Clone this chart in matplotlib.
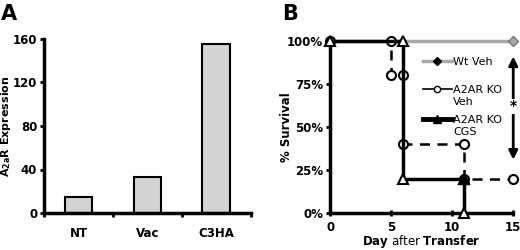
import numpy as np
import matplotlib.pyplot as plt
from matplotlib.lines import Line2D
from matplotlib.legend_handler import HandlerLine2D

plt.rcParams['font.family'] = 'DejaVu Sans'
plt.rcParams['font.weight'] = 'bold'
plt.rcParams['mathtext.fontset'] = 'dejavusans'

# panel A data
groups = ['NT', 'Vac', 'C3HA']
expression = [15, 33, 155]

# panel B data (Kaplan-Meier steps)
wt_day = [0, 15]
wt_surv = [100, 100]
ko_day = [0, 5, 5, 6, 6, 11, 11, 15]
ko_surv = [100, 100, 80, 80, 40, 40, 20, 20]
cgs_day = [0, 6, 6, 11, 11]
cgs_surv = [100, 100, 20, 20, 0]


class TopHandler(HandlerLine2D):
    # put the legend sample level with the first line of a two-line label
    def __init__(self, shift, **kw):
        super().__init__(**kw)
        self.shift = shift

    def create_artists(self, legend, orig_handle, xdescent, ydescent,
                       width, height, fontsize, trans):
        arts = super().create_artists(legend, orig_handle, xdescent, ydescent,
                                      width, height, fontsize, trans)
        for a in arts:
            a.set_ydata(np.asarray(a.get_ydata()) + self.shift)
        return arts


fig = plt.figure(figsize=(5.2, 2.5), dpi=100)

# ---- A ----
ax1 = fig.add_axes([0.085, 0.148, 0.397, 0.696])
ax1.bar(range(len(groups)), expression, width=0.4, color='#d3d3d3',
        edgecolor='black', linewidth=1.5)
ax1.set_xlim(-0.5, 2.5)
ax1.set_ylim(0, 160)
ax1.set_yticks([0, 40, 80, 120, 160])
ax1.set_xticks([-0.5, 0.5, 1.5, 2.5])
ax1.set_xticklabels([])
for i, g in enumerate(groups):
    ax1.text(i, -13, g, ha='center', va='top', fontsize=8.5, fontweight='bold')
ax1.set_ylabel(r'A$_{\mathbf{2a}}$R Expression', fontsize=8, fontweight='bold')
ax1.yaxis.set_label_coords(-0.15, 0.5)
for s in ['top', 'right']:
    ax1.spines[s].set_visible(False)
ax1.spines['left'].set_linewidth(2.5)
ax1.spines['bottom'].set_linewidth(2.5)
ax1.tick_params(width=2, length=3, labelsize=8.5, pad=2)
fig.text(0.002, 0.985, 'A', fontsize=15, fontweight='bold', va='top')

# ---- B ----
ax2 = fig.add_axes([0.635, 0.148, 0.352, 0.688])
ax2.plot(wt_day, wt_surv, color='#a8a8a8', lw=2.5, marker='D', ms=5,
         mfc='#a8a8a8', mec='#777777', clip_on=False, zorder=2)
ax2.plot(ko_day, ko_surv, color='black', lw=1.8, ls=(0, (4, 3)), marker='o', ms=6.5,
         mfc='white', mec='black', mew=1.5, clip_on=False, zorder=3)
ax2.plot(cgs_day, cgs_surv, color='black', lw=2.5, marker='^', ms=6.5,
         mfc='white', mec='black', mew=1.5, clip_on=False, zorder=4)
ax2.plot([11], [20], marker='^', ms=6.5, color='black', clip_on=False, zorder=5)
ax2.set_xlim(0, 15)
ax2.set_ylim(0, 100)
ax2.set_xticks([0, 5, 10, 15])
ax2.set_yticks([0, 25, 50, 75, 100])
ax2.set_yticklabels(['0%', '25%', '50%', '75%', '100%'])
for s in ['top', 'right']:
    ax2.spines[s].set_visible(False)
ax2.spines['left'].set_linewidth(2.5)
ax2.spines['bottom'].set_linewidth(2.5)
ax2.tick_params(width=2, length=3, labelsize=8.5, pad=2)
ax2.tick_params(axis='x', direction='inout', length=5, pad=3)
ax2.set_ylabel('% Survival', fontsize=8.5, fontweight='bold')
ax2.yaxis.set_label_coords(-0.205, 0.5)
ax2.set_xlabel(r'$\mathbf{Day}$ after $\mathbf{Transfer}$', fontsize=8.5,
               fontweight='normal')
ax2.xaxis.set_label_coords(0.5, -0.115)

ax2.annotate('', xy=(15, 31), xytext=(15, 91),
             arrowprops=dict(arrowstyle='<|-|>', color='black', lw=2,
                             mutation_scale=13, shrinkA=0, shrinkB=0))
ax2.text(15, 62, '*', fontsize=10, fontweight='bold', ha='center', va='center',
         bbox=dict(facecolor='white', edgecolor='none', pad=0.3))

fs = 8
wt_h = Line2D([], [], color='#a8a8a8', lw=2.5, marker='D', ms=4, mfc='black', mec='black')
ko_h = Line2D([], [], color='black', lw=1.2, marker='o', ms=4.5, mfc='white', mec='black')
cgs_h = Line2D([], [], color='black', lw=3.5, marker='^', ms=6, mfc='black', mec='black')
leg_kw = dict(frameon=False, handlelength=2.6, handletextpad=0.15, borderpad=0,
              prop={'weight': 'normal', 'size': fs})
leg1 = ax2.legend([wt_h], ['Wt Veh'], loc='center left',
                  bbox_to_anchor=(0.475, 0.879), **leg_kw)
ax2.add_artist(leg1)
ax2.legend([ko_h, cgs_h], ['A2AR KO\nVeh', 'A2AR KO\nCGS'], loc='upper left',
           bbox_to_anchor=(0.475, 0.775), labelspacing=0.75,
           handler_map={ko_h: TopHandler(0.6 * fs), cgs_h: TopHandler(0.6 * fs)},
           **leg_kw)
fig.text(0.543, 0.985, 'B', fontsize=15, fontweight='bold', va='top')

fig.savefig('out.png', dpi=100)
